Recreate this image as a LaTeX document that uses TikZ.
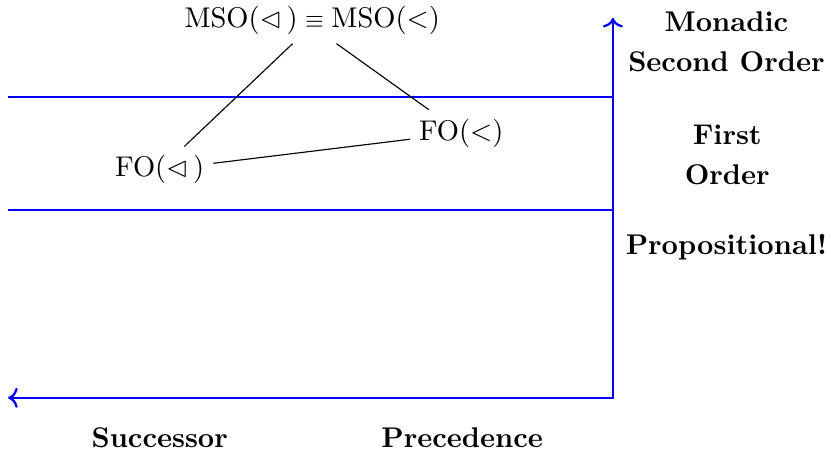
\documentclass[tikz,border=0pt]{standalone}
\usepackage{amssymb}
\usetikzlibrary{arrows.meta,positioning}
\tikzset{
  logicnode/.style = {inner sep=3pt},
  levellbl/.style  = {align=center, font=\bfseries},
  axisflow/.style  = {->, draw=blue, thick},
  axisline/.style  = {draw=blue, thick},
  impl/.style      = {draw=black},
}

\begin{document}
\begin{tikzpicture}
  \useasboundingbox (0,0) rectangle (10.25,5.56);

  % axes and level separators
  \coordinate (corner) at (7.56,0.653);
  \coordinate (top)    at (7.56,5.34);
  \coordinate (left)   at (0.10,0.653);
  \coordinate (msoL)   at (0.10,4.365);
  \coordinate (msoR)   at (7.56,4.365);
  \coordinate (foL)    at (0.10,2.97);
  \coordinate (foR)    at (7.56,2.97);
  \draw[axisflow, <->] (top) -- (corner) -- (left);
  \draw[axisline] (msoL) -- (msoR);
  \draw[axisline] (foL) -- (foR);

  % logics
  \node[logicnode, inner sep=0pt, font=\footnotesize] (equiv) at (3.88,5.29) {$\equiv$};
  \node[logicnode, anchor=base east] (msoS) at ([xshift=0.8pt]equiv.base west) {MSO($\lhd$\,)};
  \node[logicnode, anchor=base west] (msoP) at ([xshift=-0.8pt]equiv.base east) {MSO($<$)};
  \node[logicnode] (foS) at (1.97,3.465) {FO($\lhd$\,)};
  \node[logicnode] (foP) at (5.69,3.92)  {FO($<$)};

  \draw[impl] ([xshift=-5pt]msoS.south east) -- (foS);
  \draw[impl] ([xshift=5pt]msoP.south west) -- (foP);
  \draw[impl] (foS) -- (foP);

  % level and axis labels
  \node[levellbl] (lblmso)  at (8.96,5.04)  {Monadic\\[2pt]Second Order};
  \node[levellbl] (lblfo)   at (8.97,3.65)  {First\\[2pt]Order};
  \node[levellbl] (lblprop) at (8.96,2.515) {Propositional!};
  \node[levellbl] (lblsucc) at (1.97,0.16)  {Successor};
  \node[levellbl] (lblprec) at (5.70,0.16)  {Precedence};
\end{tikzpicture}
\end{document}
